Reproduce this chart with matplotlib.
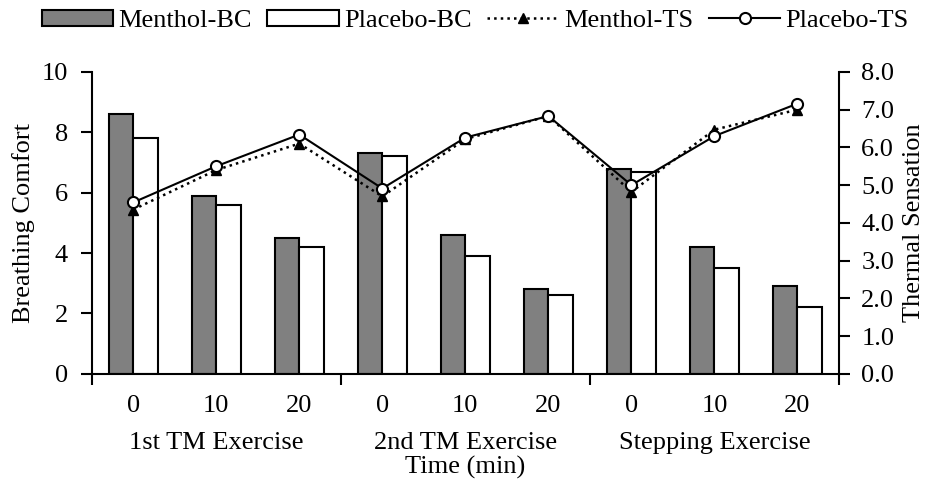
import numpy as np
import matplotlib.pyplot as plt

plt.rcParams['font.family'] = ['Liberation Serif', 'DejaVu Serif']
plt.rcParams['font.size'] = 19

times = ['0', '10', '20', '0', '10', '20', '0', '10', '20']
groups = ['1st TM Exercise', '2nd TM Exercise', 'Stepping Exercise']

# breathing comfort (left axis)
menthol_bc = [8.6, 5.9, 4.5, 7.3, 4.6, 2.8, 6.8, 4.2, 2.9]
placebo_bc = [7.8, 5.6, 4.2, 7.2, 3.9, 2.6, 6.7, 3.5, 2.2]

# thermal sensation (right axis)
menthol_ts = [4.35, 5.4, 6.1, 4.7, 6.22, 6.83, 4.82, 6.47, 7.0]
placebo_ts = [4.54, 5.5, 6.34, 4.91, 6.26, 6.83, 5.0, 6.3, 7.16]

x = np.arange(len(times)) + 0.5
w = 0.295

fig = plt.figure(figsize=(9.28, 4.86), dpi=100)
ax = fig.add_axes([0.0988, 0.231, 0.8053, 0.621])

b1 = ax.bar(x - w / 2, menthol_bc, w, color='#808080', edgecolor='black', linewidth=1.5, label='Menthol-BC')
b2 = ax.bar(x + w / 2, placebo_bc, w, color='white', edgecolor='black', linewidth=1.5, label='Placebo-BC')

ax.set_xlim(0, 9)
ax.set_ylim(0, 10)
ax.set_yticks([0, 2, 4, 6, 8, 10])
ax.set_xticks([0, 3, 6, 9])
ax.set_xticklabels([])
ax.set_xticks(x, minor=True)
ax.set_xticklabels(times, minor=True)
ax.tick_params(axis='x', which='major', direction='out', length=8, width=1.5)
ax.tick_params(axis='x', which='minor', length=0, pad=15)
ax.tick_params(axis='y', direction='out', length=8, width=1.5, pad=9)
for s in ['top', 'right']:
    ax.spines[s].set_visible(False)
for s in ['left', 'bottom']:
    ax.spines[s].set_linewidth(1.5)
ax.set_ylabel('Breathing Comfort', labelpad=5)

for i, g in enumerate(groups):
    ax.text(3 * i + 1.5, -0.228, g, transform=ax.get_xaxis_transform(),
            ha='center', va='center')
ax.text(4.5, -0.31, 'Time (min)', transform=ax.get_xaxis_transform(),
        ha='center', va='center')

ax2 = ax.twinx()
l1, = ax2.plot(x, menthol_ts, color='black', linestyle=':', linewidth=1.8,
               marker='^', markersize=7, markerfacecolor='black', label='Menthol-TS')
l2, = ax2.plot(x, placebo_ts, color='black', linestyle='-', linewidth=1.5,
               marker='o', markersize=8, markerfacecolor='white', markeredgewidth=1.5,
               label='Placebo-TS')
ax2.set_ylim(0, 8)
ax2.set_yticks(np.arange(0, 9, 1))
ax2.set_yticklabels([f'{v:.1f}' for v in np.arange(0, 9, 1)])
ax2.tick_params(axis='y', direction='out', length=8, width=1.5, pad=8)
for s in ['top', 'left', 'bottom']:
    ax2.spines[s].set_visible(False)
ax2.spines['right'].set_linewidth(1.5)
ax2.set_ylabel('Thermal Sensation', labelpad=6)

fig.legend(handles=[b1, b2, l1, l2], loc='center', bbox_to_anchor=(0.512, 0.957),
           ncol=4, frameon=False, handlelength=2.7, handleheight=0.55,
           handletextpad=0.2, columnspacing=0.6)

fig.savefig('out.png', dpi=100)
